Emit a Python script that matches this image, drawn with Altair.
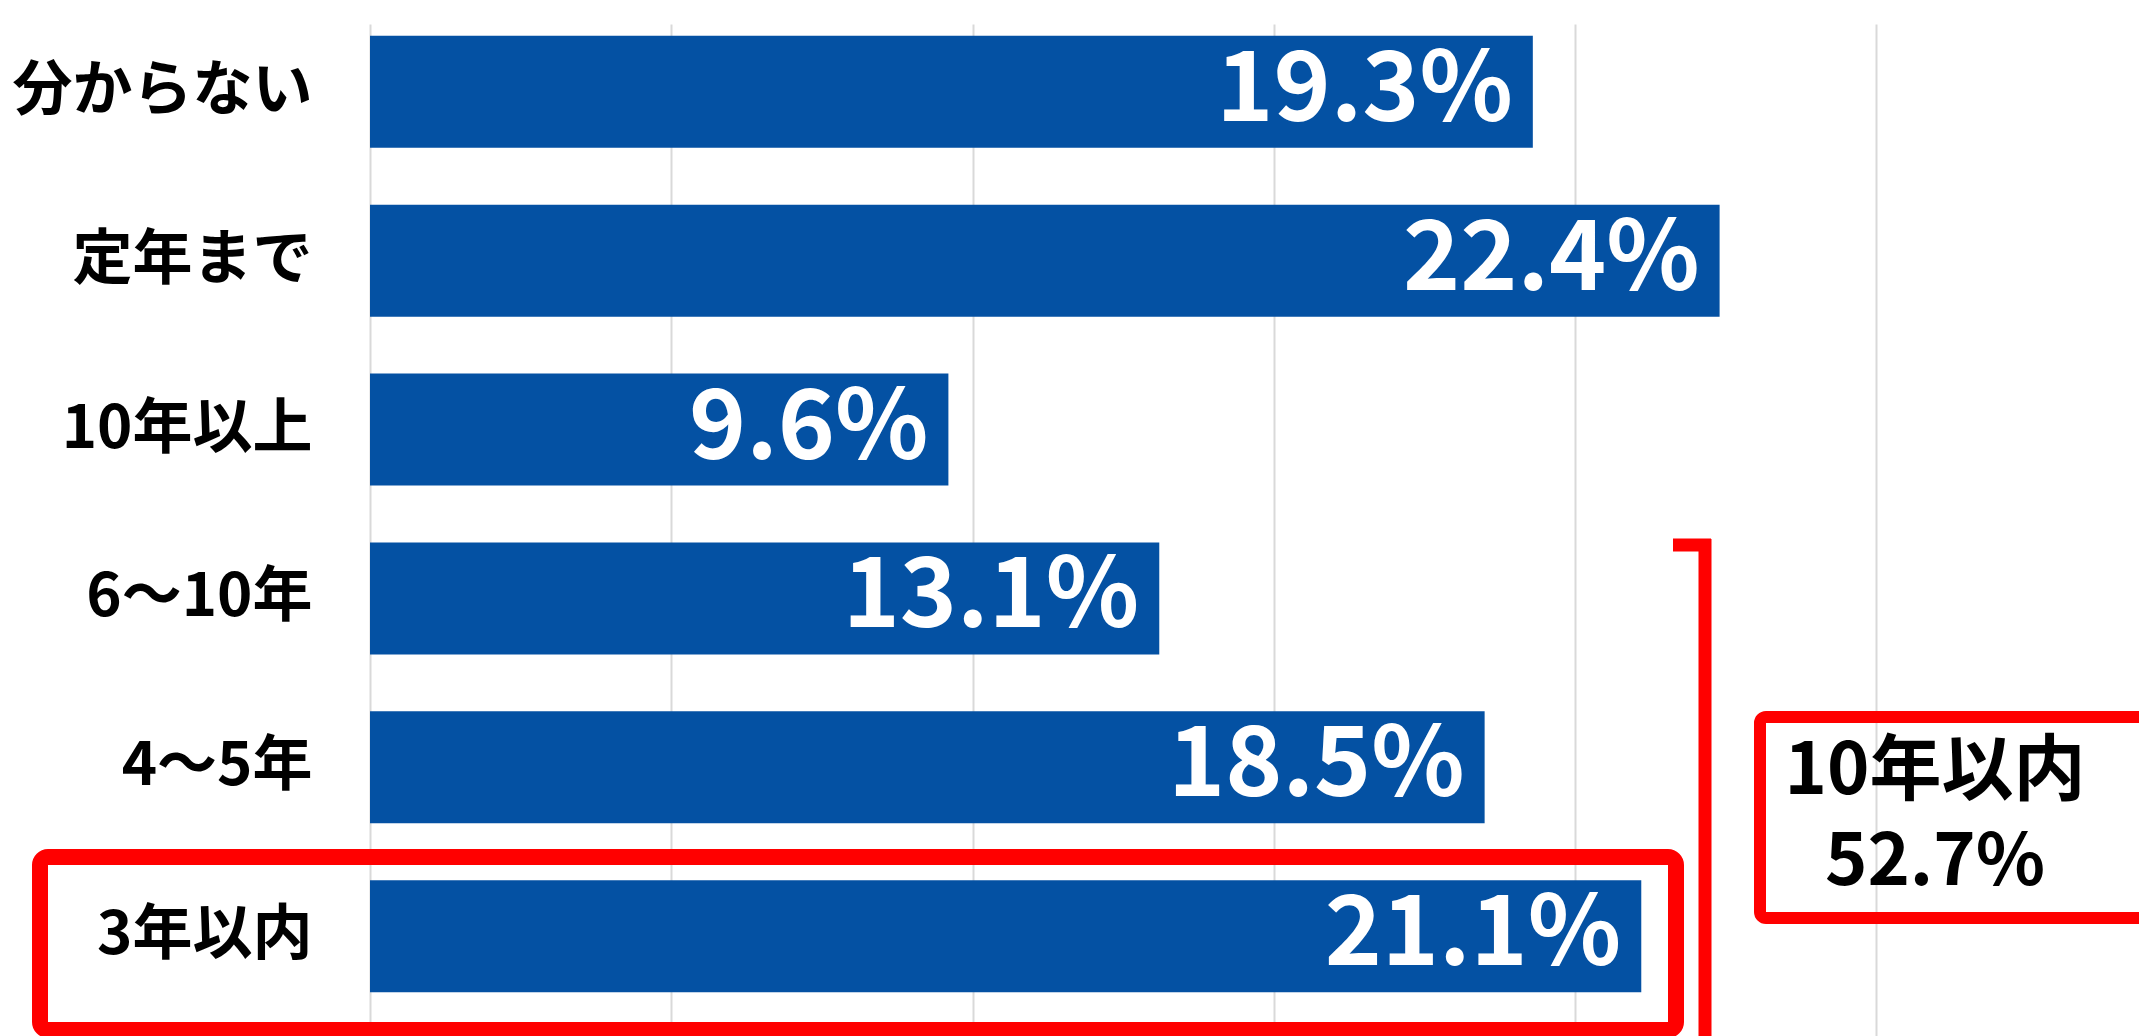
import altair as alt
import pandas as pd

# ---- data ----
categories = ["分からない", "定年まで", "10年以上", "6～10年", "4～5年", "3年以内"]
values = [19.3, 22.4, 9.6, 13.1, 18.5, 21.1]
grid_ticks = [0, 5, 10, 15, 20, 25]
summary_lines = ["10年以内", "52.7%"]

df = pd.DataFrame({"category": categories, "value": values})
df["label"] = [f"{v:.1f}%" for v in values]

FONT = "Noto Sans CJK JP"
BLUE = "#0451A3"
RED = "#FF0000"

PLOT_W = 1769
X_MAX = PLOT_W / 60.25

y_scale = alt.Scale(range=[0, 1012], paddingInner=0.337, paddingOuter=0.165)
y_enc = alt.Y(
    "category:N",
    sort=categories,
    scale=y_scale,
    axis=alt.Axis(
        title=None,
        domain=False,
        ticks=False,
        grid=False,
        labelFont=FONT,
        labelFontSize=60,
        labelFontWeight="bold",
        labelColor="#000000",
        labelPadding=58,
        labelLimit=500,
    ),
)
x_enc = alt.X(
    "value:Q",
    scale=alt.Scale(domain=[0, X_MAX], nice=False, zero=True),
    axis=alt.Axis(
        values=grid_ticks,
        grid=True,
        gridColor="#d9d9d9",
        gridWidth=2,
        labels=False,
        ticks=False,
        domain=False,
        title=None,
    ),
)

base = alt.Chart(df)
bars = base.mark_bar(color=BLUE).encode(x=x_enc, y=y_enc)
labels = base.mark_text(
    align="right",
    baseline="middle",
    dx=-20,
    color="white",
    font=FONT,
    fontWeight="bold",
    fontSize=97,
).encode(x="value:Q", y=alt.Y("category:N", sort=categories), text="label:N")

one = alt.Data(values=[{"a": 1}])

# red box around the "3年以内" row (pixel offsets from the plot's top-left corner)
row_box = alt.Chart(one).mark_rect(
    fillOpacity=0, stroke=RED, strokeWidth=16, cornerRadius=8
).encode(x=alt.value(-330), x2=alt.value(1306), y=alt.value(849), y2=alt.value(1022))

# bracket
br_h = alt.Chart(one).mark_rule(stroke=RED, strokeWidth=13).encode(
    x=alt.value(1303), x2=alt.value(1341), y=alt.value(537)
)
br_v = alt.Chart(one).mark_rule(stroke=RED, strokeWidth=13).encode(
    x=alt.value(1335), y=alt.value(531), y2=alt.value(1045)
)

# summary box
sum_box = alt.Chart(one).mark_rect(
    fillOpacity=0, stroke=RED, strokeWidth=12, cornerRadius=6
).encode(x=alt.value(1390), x2=alt.value(1779), y=alt.value(709), y2=alt.value(910))

sum_text = alt.Chart(one).mark_text(
    text=summary_lines,
    align="center",
    baseline="middle",
    lineHeight=91,
    font=FONT,
    fontWeight="bold",
    fontSize=72,
    color="#000000",
).encode(x=alt.value(1565), y=alt.value(764))

chart = alt.layer(bars, labels, row_box, br_h, br_v, sum_box, sum_text).properties(
    width=PLOT_W,
    height=1028,
    autosize=alt.AutoSizeParams(type="none"),
    padding={"left": 362, "top": 0, "right": 0, "bottom": 0},
    background="white",
).configure_view(stroke=None)

chart.save("out.html", embed_options={"renderer": "svg", "actions": False})
